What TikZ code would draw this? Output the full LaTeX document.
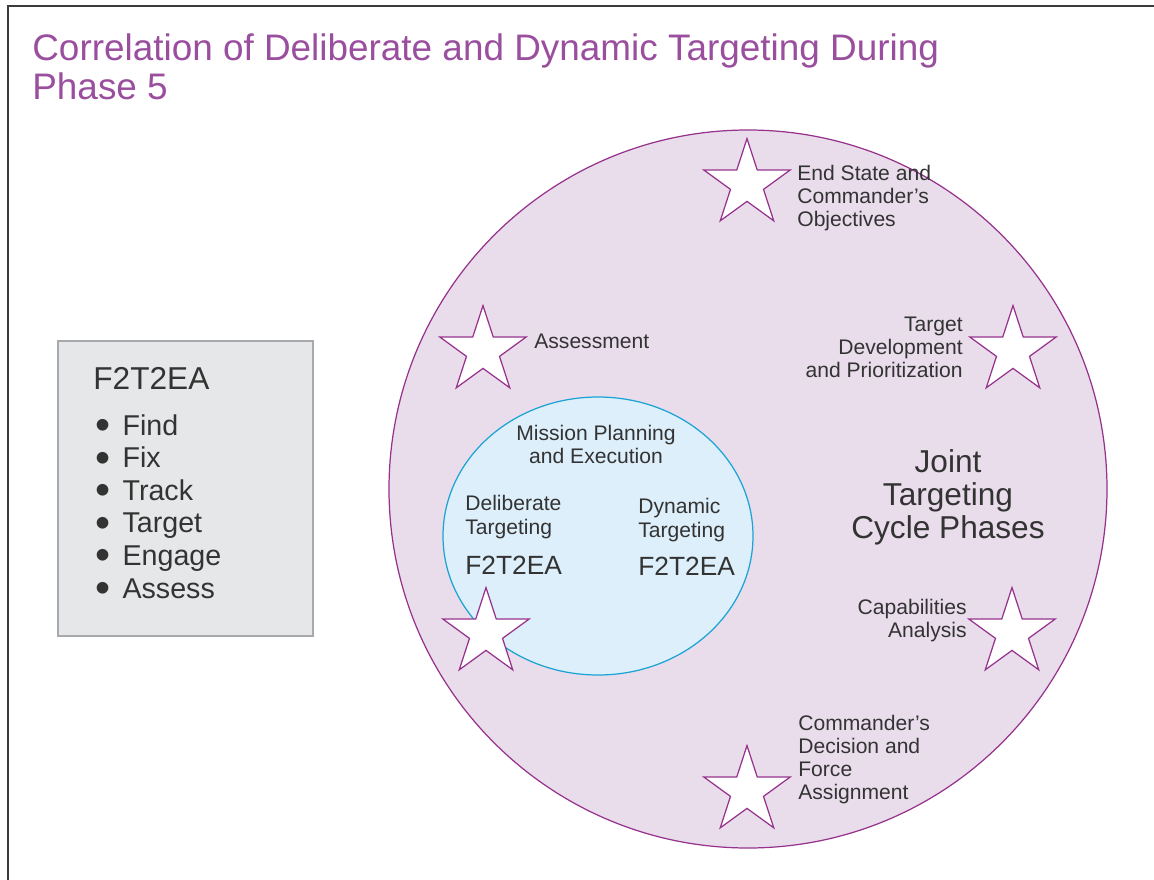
\documentclass[tikz,border=0pt]{standalone}
\usepackage{fontspec}
\setmainfont{Liberation Sans}
\usepackage{graphicx}
\usepackage{tikz}
\usetikzlibrary{shapes.geometric, positioning}
\usepackage{xcolor}
\definecolor{titlepurple}{RGB}{154,78,158}
\definecolor{ringfill}{RGB}{233,221,236}
\definecolor{ringline}{RGB}{150,50,140}
\definecolor{missionfill}{RGB}{221,239,250}
\definecolor{missionline}{RGB}{26,163,212}
\definecolor{boxfill}{RGB}{230,231,232}
\definecolor{boxline}{RGB}{167,169,172}
\definecolor{ink}{RGB}{51,51,51}
\definecolor{frame}{RGB}{60,60,60}

\begin{document}
\begin{tikzpicture}[
    every node/.style={inner sep=0pt, text=ink},
    lbl/.style={font=\fontsize{12}{13}\selectfont},
    biglbl/.style={font=\fontsize{18}{19}\selectfont},
    listlbl/.style={font=\fontsize{16.3}{18.5}\selectfont, anchor=base west},
    phasestar/.style={star, star points=5, star point ratio=2.618,
        minimum size=1.82cm, draw=ringline, fill=white, line width=0.7pt},
]
\useasboundingbox (0,0) rectangle (23.08,-17.6);

% === FRAME and TITLE ===
\draw[frame, line width=1.7pt] (0.16,-17.6) -- (0.16,-0.12) -- (23.08,-0.12);
\node[anchor=base west, align=left, text=titlepurple,
      font=\fontsize{21}{22.1}\selectfont] (title) at (0.64,-1.98)
    {Correlation of Deliberate and Dynamic Targeting During\\Phase 5};

% === F2T2EA BOX (Left side) ===
\draw[draw=boxline, fill=boxfill, line width=0.6pt] (1.16,-6.82) rectangle (6.26,-12.72);
\node[anchor=base west, font=\fontsize{18}{20}\selectfont] (boxtitle) at (1.86,-7.78) {F2T2EA};
\foreach \word [count=\i] in {Find, Fix, Track, Target, Engage, Assess}
    \node[listlbl] (item\i) at (1.90,-8.70-0.652*\i+0.652)
        {\makebox[0.95em][l]{\raisebox{-2.6pt}[0pt][0pt]{\scalebox{1.5}{\textbullet}}}\word};

% === CIRCLES ===
\draw[draw=ringline, fill=ringfill, line width=0.7pt] (14.96,-9.78) circle (7.18);
\draw[draw=missionline, fill=missionfill, line width=0.7pt]
    (11.96,-10.72) ellipse (3.10 and 2.78);

% === INNER TEXT ===
\node[lbl, align=center, anchor=base] (mission) at (11.92,-9.26)
    {Mission Planning\\and Execution};
\node[lbl, align=left, anchor=base west, font=\fontsize{12}{13.4}\selectfont] (delib) at (9.30,-10.69)
    {Deliberate\\Targeting};
\node[lbl, align=left, anchor=base west, font=\fontsize{12}{13.4}\selectfont] (dyn) at (12.76,-10.74)
    {Dynamic\\Targeting};
\node[anchor=base west, font=\fontsize{15}{16}\selectfont] (delibf) at (9.30,-11.48) {F2T2EA};
\node[anchor=base west, font=\fontsize{15}{16}\selectfont] (dynf) at (12.76,-11.50) {F2T2EA};
\node[biglbl, align=center, anchor=base, font=\fontsize{18}{18.7}\selectfont] (jtc) at (18.96,-10.76)
    {Joint\\Targeting\\Cycle Phases};

% === STARS ===
\node[phasestar] (p1) at (14.94,-3.68) {};
\node[phasestar] (p2) at (20.26,-7.02) {};
\node[phasestar] (p3) at (20.24,-12.66) {};
\node[phasestar] (p4) at (14.94,-15.82) {};
\node[phasestar] (p5) at (9.72,-12.66) {};
\node[phasestar] (p6) at (9.66,-7.02) {};

% === STAR LABELS ===
\node[lbl, align=left, anchor=base west] (p1lbl) at (15.94,-4.52)
    {End State and\\Commander's\\Objectives};
\node[lbl, align=right, anchor=base east] (p2lbl) at (19.26,-7.54)
    {Target\\Development\\and Prioritization};
\node[lbl, align=right, anchor=base east] (p3lbl) at (19.34,-12.74)
    {Capabilities\\Analysis};
\node[lbl, align=left, anchor=base west] (p4lbl) at (15.96,-15.98)
    {Commander's\\Decision and\\Force\\Assignment};
\node[lbl, anchor=base west] (p6lbl) at (10.68,-6.96) {Assessment};

\end{tikzpicture}
\end{document}
